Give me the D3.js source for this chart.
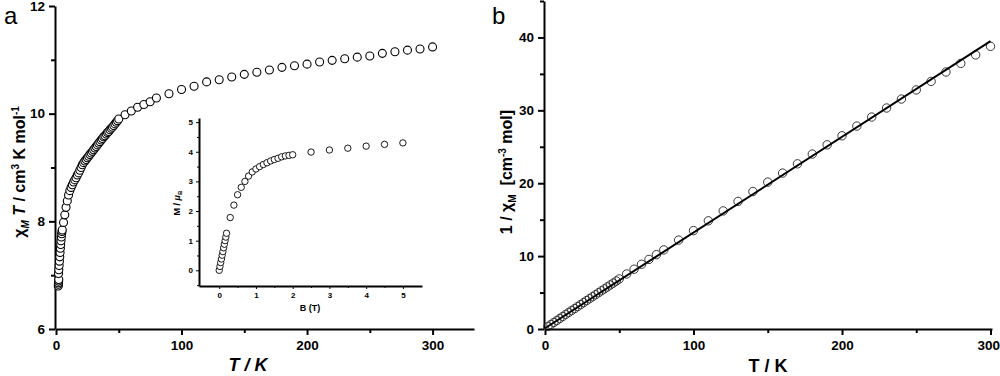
<!DOCTYPE html>
<html>
<head>
<meta charset="utf-8">
<script src="https://cdn.jsdelivr.net/npm/d3@7"></script>
<style>
	body { margin: 0; background: #fff; }
	svg { font-family: "Liberation Sans", Arial, sans-serif; font-weight: bold; }
	.domain { stroke-width: 2px; }
</style>
</head>
<body>
<svg id="chart" width="1000" height="376"></svg>
<script>

// panel a: chiM*T vs T
var tempA = [1.8, 1.9, 2.0, 2.1, 2.2, 2.0, 2.25, 2.5, 2.75, 3.0, 3.25, 3.5, 3.75, 4.0, 4.25, 4.5, 4.75,
	5, 6, 7, 8, 9, 10, 11, 12, 13, 14, 15, 16, 17, 18, 19, 20, 21, 22, 23, 24, 25, 26, 27, 28, 29, 30,
	31, 32, 33, 34, 35, 36, 37, 38, 39, 40, 41, 42, 43, 44, 45, 46, 47, 48, 49, 50,
	55, 60, 65, 70, 75, 80, 90, 100, 110, 120, 130, 140, 150, 160, 170, 180, 190, 200,
	210, 220, 230, 240, 250, 260, 270, 280, 290, 300];
var chiT = [6.80, 6.83, 6.86, 6.89, 6.92, 7.03, 7.10, 7.18, 7.26, 7.34, 7.42, 7.50, 7.57, 7.64, 7.71, 7.77, 7.81,
	7.84, 7.98, 8.12, 8.26, 8.38, 8.49, 8.57, 8.63, 8.68, 8.73, 8.77, 8.81, 8.86, 8.90, 8.95, 9.00, 9.05, 9.09, 9.12, 9.15, 9.18, 9.21, 9.24, 9.27, 9.30, 9.33,
	9.36, 9.39, 9.42, 9.45, 9.48, 9.51, 9.54, 9.57, 9.59, 9.62, 9.65, 9.67, 9.70, 9.73, 9.75, 9.78, 9.81, 9.84, 9.87, 9.90,
	9.98, 10.05, 10.12, 10.17, 10.22, 10.29, 10.37, 10.45, 10.51, 10.59, 10.63, 10.68, 10.73, 10.77, 10.81, 10.86, 10.89, 10.92,
	10.96, 10.99, 11.02, 11.05, 11.07, 11.12, 11.15, 11.18, 11.20, 11.24];

// inset: M vs B
var fieldB = [0, 0.02, 0.04, 0.06, 0.08, 0.10, 0.12, 0.14, 0.16, 0.18, 0.20,
	0.3, 0.4, 0.5, 0.6, 0.7, 0.8, 0.9, 1.0, 1.1, 1.2, 1.3, 1.4, 1.5, 1.6, 1.7, 1.8, 1.9, 2.0,
	2.5, 3.0, 3.5, 4.0, 4.5, 5.0];
var magM = [0, 0.13, 0.26, 0.38, 0.51, 0.63, 0.76, 0.88, 1.0, 1.12, 1.25,
	1.78, 2.2, 2.55, 2.8, 3.0, 3.18, 3.32, 3.42, 3.5, 3.57, 3.63, 3.69, 3.74, 3.78, 3.83, 3.86, 3.88, 3.9,
	3.99, 4.06, 4.12, 4.19, 4.25, 4.3];

// panel b: 1/chiM vs T
var tempB = [2, 4, 6, 8, 10, 12, 14, 16, 18, 20, 22, 24, 26, 28, 30, 32, 34, 36, 38, 40, 42, 44, 46, 48,
	50, 55, 60, 65, 70, 75, 80, 90, 100, 110, 120, 130, 140, 150, 160, 170, 180, 190, 200,
	210, 220, 230, 240, 250, 260, 270, 280, 290, 300];
var invChi = [0.35, 0.62, 0.90, 1.17, 1.45, 1.72, 2.00, 2.27, 2.54, 2.80, 3.08, 3.35, 3.62, 3.90, 4.16, 4.43, 4.70, 4.97, 5.24, 5.50, 5.77, 6.04, 6.30, 6.58,
	6.87, 7.55, 8.20, 8.88, 9.55, 10.20, 10.85, 12.2, 13.5, 14.84, 16.2, 17.5, 18.86, 20.15, 21.39, 22.66, 24.0, 25.27, 26.51,
	27.84, 29.08, 30.32, 31.55, 32.8, 33.97, 35.26, 36.44, 37.6, 38.78];

// Curie-Weiss fit line
var fitT = [0, 300];
var fitY = [0.1, 39.5];

var svg = d3.select("#chart");
var fmt = d3.format("d");

function styleAxis(g, size) {
	g.selectAll("text").style("font-size", size + "px").style("font-weight", "bold").attr("fill", "#000");
	g.selectAll("line").attr("stroke", "#000");
	g.select(".domain").attr("stroke", "#000");
}

// ---------- panel a ----------
var xA = d3.scaleLinear().domain([0, 333]).range([56, 474]);
var yA = d3.scaleLinear().domain([6, 12]).range([329, 6]);

var gA = svg.append("g");

gA.append("g").attr("transform", "translate(0,329)")
	.call(d3.axisBottom(xA).tickValues([50, 150, 250]).tickSize(4).tickFormat(""))
	.call(g => g.select(".domain").remove())
	.selectAll("line").attr("stroke", "#000").attr("stroke-width", 2);
gA.append("g").attr("transform", "translate(0,329)")
	.call(d3.axisBottom(xA).tickValues([0, 100, 200, 300]).tickFormat(fmt).tickSize(6).tickSizeOuter(0).tickPadding(5))
	.call(g => styleAxis(g, 13.5))
	.selectAll("line").attr("stroke-width", 2);

gA.append("g").attr("transform", "translate(55,0)")
	.call(d3.axisLeft(yA).tickValues([7, 9, 11]).tickSize(4).tickFormat(""))
	.call(g => g.select(".domain").remove())
	.selectAll("line").attr("stroke", "#000").attr("stroke-width", 2);
gA.append("g").attr("transform", "translate(55,0)")
	.call(d3.axisLeft(yA).tickValues([6, 8, 10, 12]).tickFormat(fmt).tickSize(6).tickSizeOuter(0).tickPadding(4))
	.call(g => styleAxis(g, 13.5))
	.selectAll("line").attr("stroke-width", 2);

gA.append("g").selectAll("circle")
	.data(d3.range(tempA.length))
	.join("circle")
	.attr("cx", i => xA(tempA[i]))
	.attr("cy", i => yA(chiT[i]))
	.attr("r", 4)
	.attr("fill", "#fff")
	.attr("stroke", "#000")
	.attr("stroke-width", 1.1);

gA.append("text")
	.attr("x", 248).attr("y", 371)
	.attr("text-anchor", "middle")
	.style("font-size", "18px").style("font-style", "italic")
	.text("T / K");

var yLabA = gA.append("text")
	.attr("transform", "translate(25,172) rotate(-90)")
	.attr("text-anchor", "middle")
	.style("font-size", "16px");
yLabA.append("tspan").text("\u03c7");
yLabA.append("tspan").attr("dy", 4).style("font-size", "10px").style("font-style", "italic").text("M");
yLabA.append("tspan").attr("dy", -4).style("font-style", "italic").text(" T");
yLabA.append("tspan").text(" / cm");
yLabA.append("tspan").attr("dy", -6).style("font-size", "10px").text("3");
yLabA.append("tspan").attr("dy", 6).text(" K mol");
yLabA.append("tspan").attr("dy", -6).style("font-size", "10px").text("-1");

svg.append("text").attr("x", 4).attr("y", 24)
	.style("font-size", "24px").style("font-weight", "normal").text("a");

// ---------- inset ----------
var xI = d3.scaleLinear().domain([-0.55, 5.52]).range([199, 422]);
var yI = d3.scaleLinear().domain([-0.53, 5.14]).range([286, 118]);

var gI = svg.append("g");
gI.append("g").attr("transform", "translate(0,286)")
	.call(d3.axisBottom(xI).tickValues([0.5, 1.5, 2.5, 3.5, 4.5]).tickSize(2).tickFormat(""))
	.call(g => g.select(".domain").remove())
	.selectAll("line").attr("stroke", "#000");
gI.append("g").attr("transform", "translate(0,286)")
	.call(d3.axisBottom(xI).tickValues([0, 1, 2, 3, 4, 5]).tickFormat(fmt).tickSize(3).tickSizeOuter(0).tickPadding(3))
	.call(g => styleAxis(g, 8))
	.select(".domain").attr("stroke-width", 1.3);
gI.append("g").attr("transform", "translate(199,0)")
	.call(d3.axisLeft(yI).tickValues([-0.5, 0.5, 1.5, 2.5, 3.5, 4.5]).tickSize(2).tickFormat(""))
	.call(g => g.select(".domain").remove())
	.selectAll("line").attr("stroke", "#000");
gI.append("g").attr("transform", "translate(199,0)")
	.call(d3.axisLeft(yI).tickValues([0, 1, 2, 3, 4, 5]).tickFormat(fmt).tickSize(3).tickSizeOuter(0).tickPadding(3))
	.call(g => styleAxis(g, 8))
	.select(".domain").attr("stroke-width", 1.3);

gI.append("g").selectAll("circle")
	.data(d3.range(fieldB.length))
	.join("circle")
	.attr("cx", i => xI(fieldB[i]))
	.attr("cy", i => yI(magM[i]))
	.attr("r", 3.2)
	.attr("fill", "#fff")
	.attr("stroke", "#000")
	.attr("stroke-width", 0.9);

gI.append("text").attr("x", 310).attr("y", 311)
	.attr("text-anchor", "middle").style("font-size", "9px").text("B (T)");
var yLabI = gI.append("text")
	.attr("transform", "translate(180,203) rotate(-90)")
	.attr("text-anchor", "middle").style("font-size", "9px");
yLabI.append("tspan").text("M / ");
yLabI.append("tspan").style("font-style", "italic").text("\u03bc");
yLabI.append("tspan").attr("dy", 2).style("font-size", "6px").text("B");

// ---------- panel b ----------
var xB = d3.scaleLinear().domain([0, 301]).range([545, 992]);
var yB = d3.scaleLinear().domain([0, 45]).range([329, 1]);

var gB = svg.append("g");
gB.append("g").attr("transform", "translate(0,329)")
	.call(d3.axisBottom(xB).tickValues([50, 150, 250]).tickSize(4).tickFormat(""))
	.call(g => g.select(".domain").remove())
	.selectAll("line").attr("stroke", "#000").attr("stroke-width", 2);
gB.append("g").attr("transform", "translate(0,329)")
	.call(d3.axisBottom(xB).tickValues([0, 100, 200, 300]).tickFormat(fmt).tickSize(6).tickSizeOuter(0).tickPadding(5))
	.call(g => styleAxis(g, 13.5))
	.selectAll("line").attr("stroke-width", 2);

gB.append("g").attr("transform", "translate(544,0)")
	.call(d3.axisLeft(yB).tickValues([5, 15, 25, 35, 45]).tickSize(4).tickFormat(""))
	.call(g => g.select(".domain").remove())
	.selectAll("line").attr("stroke", "#000").attr("stroke-width", 2);
gB.append("g").attr("transform", "translate(544,0)")
	.call(d3.axisLeft(yB).tickValues([0, 10, 20, 30, 40]).tickFormat(fmt).tickSize(6).tickSizeOuter(0).tickPadding(4))
	.call(g => styleAxis(g, 13.5))
	.selectAll("line").attr("stroke-width", 2);

// keep the last tick label inside the page
gB.selectAll(".tick text").filter(d => d === 300).attr("text-anchor", "end").attr("x", 9);

gB.append("g").selectAll("circle")
	.data(d3.range(tempB.length))
	.join("circle")
	.attr("cx", i => xB(tempB[i]))
	.attr("cy", i => yB(invChi[i]))
	.attr("r", 4.2)
	.attr("fill", "none")
	.attr("stroke", "#222")
	.attr("stroke-width", 0.9);

gB.append("path")
	.datum(d3.range(fitT.length))
	.attr("d", d3.line().x(i => xB(fitT[i])).y(i => yB(fitY[i])))
	.attr("fill", "none")
	.attr("stroke", "#000")
	.attr("stroke-width", 2);

gB.append("text")
	.attr("x", 768).attr("y", 372)
	.attr("text-anchor", "middle")
	.style("font-size", "18px")
	.text("T / K");

var yLabB = gB.append("text")
	.attr("transform", "translate(512,172) rotate(-90)")
	.attr("text-anchor", "middle")
	.attr("xml:space", "preserve")
	.style("font-size", "16px").style("white-space", "pre");
yLabB.append("tspan").text("1 / \u03c7");
yLabB.append("tspan").attr("dy", 4).style("font-size", "10px").text("M");
yLabB.append("tspan").attr("dy", -4).text("  [cm");
yLabB.append("tspan").attr("dy", -6).style("font-size", "10px").text("-3");
yLabB.append("tspan").attr("dy", 6).text(" mol]");

svg.append("text").attr("x", 492).attr("y", 24)
	.style("font-size", "24px").style("font-weight", "normal").text("b");

</script>
</body>
</html>
